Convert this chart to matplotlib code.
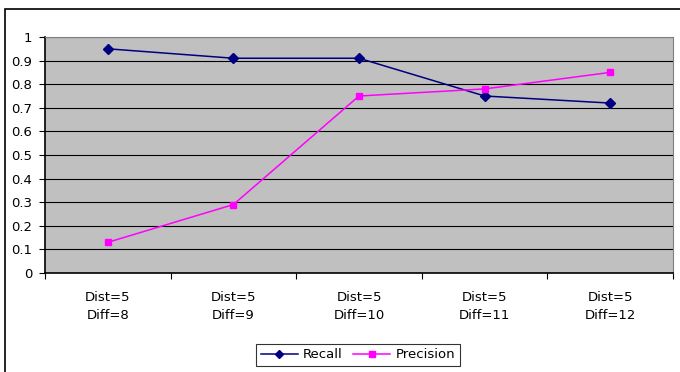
import numpy as np
import matplotlib.pyplot as plt
from matplotlib.patches import Rectangle

categories = ['Dist=5\nDiff=8', 'Dist=5\nDiff=9', 'Dist=5\nDiff=10',
              'Dist=5\nDiff=11', 'Dist=5\nDiff=12']
recall = [0.95, 0.91, 0.91, 0.75, 0.72]
precision = [0.13, 0.29, 0.75, 0.78, 0.85]

plt.rcParams['font.family'] = ['DejaVu Sans']
fig = plt.figure(figsize=(6.8, 3.72), dpi=100)
ax = fig.add_axes([45 / 680, 1 - 273 / 372, 628 / 680, 236 / 372])

x = np.arange(len(categories))
ax.plot(x, recall, color='#000080', marker='D', markersize=5, lw=1.1, label='Recall')
ax.plot(x, precision, color='#FF00FF', marker='s', markersize=5, lw=1.1, label='Precision')

ax.set_facecolor('#C0C0C0')
ax.set_xlim(-0.5, len(categories) - 0.5)
ax.set_ylim(0, 1)
ax.set_yticks(np.arange(0, 1.01, 0.1))
ax.set_yticklabels(['0', '0.1', '0.2', '0.3', '0.4', '0.5', '0.6', '0.7', '0.8', '0.9', '1'])
ax.yaxis.grid(True, color='black', lw=0.8)
ax.set_axisbelow(True)

# category labels sit between the boundary ticks
ax.set_xticks(np.arange(-0.5, len(categories), 1.0))
ax.set_xticklabels([])
ax.set_xticks(x, minor=True)
ax.set_xticklabels(categories, minor=True, fontsize=9.5, linespacing=1.5)
ax.tick_params(axis='x', which='minor', length=0, pad=13)
ax.tick_params(axis='x', which='major', length=4, direction='out')
ax.tick_params(axis='y', length=4, direction='out', labelsize=9.5, pad=5)

for s in ['top', 'right']:
    ax.spines[s].set_color('#808080')
for s in ['left', 'bottom']:
    ax.spines[s].set_color('black')
    ax.spines[s].set_linewidth(1.2)

leg = fig.legend(loc='center', bbox_to_anchor=(358 / 680, 1 - 355 / 372), ncol=2,
                 fontsize=9.5, frameon=True, fancybox=False, edgecolor='black',
                 handlelength=2.8, borderpad=0.35, columnspacing=0.8, handletextpad=0.4,
                 markerscale=0.9)
leg.get_frame().set_linewidth(0.8)

fig.patches.append(Rectangle((5 / 680, -0.1), 1.0, 1 - 9 / 372 + 0.1,
                             transform=fig.transFigure, fill=False,
                             edgecolor='black', lw=1.2))

fig.savefig('out.png', dpi=100)
